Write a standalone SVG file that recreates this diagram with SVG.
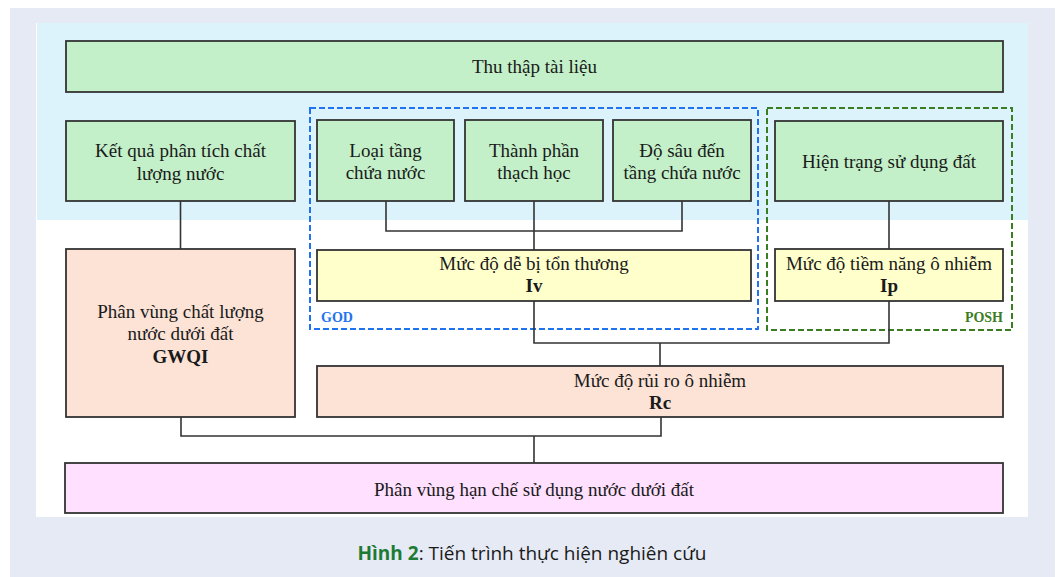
<svg xmlns="http://www.w3.org/2000/svg" width="1058" height="577" viewBox="0 0 1058 577">
<style>
.box{stroke:#333;stroke-width:1.8}
.g{fill:#C3F0C8}.y{fill:#FFFFCC}.p{fill:#FCE3D6}.k{fill:#FFE0FF}
.t{font-family:"Liberation Serif","Times New Roman",serif;font-size:19px;fill:#1a1a1a;text-anchor:middle}
.b{font-weight:bold}
.c{fill:none;stroke:#333;stroke-width:1.6}
.lbl{font-family:"Liberation Serif",serif;font-size:14px;font-weight:bold}
</style>
<rect x="0" y="0" width="1058" height="577" fill="#ffffff"/>
<rect x="10" y="8" width="1045" height="569" fill="#E6EAF5"/>
<rect x="36" y="23" width="992" height="494" fill="#ffffff"/>
<rect x="37" y="23" width="991" height="197" fill="#DDF3FB"/>

<g id="group-god">
<rect x="310" y="108" width="448" height="221" fill="none" stroke="#1F72F0" stroke-width="2" stroke-dasharray="6 3"/>
<text class="lbl" x="321" y="322" fill="#1F72F0">GOD</text>
</g>
<g id="group-posh">
<rect x="767" y="108" width="245" height="222" fill="none" stroke="#3A7D22" stroke-width="2" stroke-dasharray="6 3"/>
<text class="lbl" x="1003" y="322" fill="#3A7D22" text-anchor="end">POSH</text>
</g>

<g id="connectors">
<path class="c" d="M180.5 201V249"/>
<path class="c" d="M386 201V231H682V201"/>
<path class="c" d="M534 201V250"/>
<path class="c" d="M889 201V249"/>
<path class="c" d="M534 301V343H889V301"/>
<path class="c" d="M660 343V366"/>
<path class="c" d="M181 417V436H661V417"/>
<path class="c" d="M534 436V463"/>
</g>

<g id="n-thuthap">
<rect class="box g" x="66" y="41" width="937" height="51"/>
<text class="t" x="534.5" y="73">Thu thập tài liệu</text>
</g>
<g id="n-ketqua">
<rect class="box g" x="66" y="121" width="229" height="80"/>
<text class="t" x="180.5" y="157">Kết quả phân tích chất</text>
<text class="t" x="180.5" y="180">lượng nước</text>
</g>
<g id="n-loaitang">
<rect class="box g" x="317" y="120" width="137" height="81"/>
<text class="t" x="385.5" y="157">Loại tầng</text>
<text class="t" x="385.5" y="179">chứa nước</text>
</g>
<g id="n-thanhphan">
<rect class="box g" x="465" y="120" width="138" height="81"/>
<text class="t" x="534" y="157">Thành phần</text>
<text class="t" x="534" y="179">thạch học</text>
</g>
<g id="n-dosau">
<rect class="box g" x="613" y="120" width="138" height="81"/>
<text class="t" x="682" y="157">Độ sâu đến</text>
<text class="t" x="682" y="179">tầng chứa nước</text>
</g>
<g id="n-hientrang">
<rect class="box g" x="775" y="121" width="228" height="80"/>
<text class="t" x="889" y="168">Hiện trạng sử dụng đất</text>
</g>
<g id="n-iv">
<rect class="box y" x="317" y="250" width="434" height="51"/>
<text class="t" x="534" y="270">Mức độ dễ bị tổn thương</text>
<text class="t b" x="534" y="292">Iv</text>
</g>
<g id="n-ip">
<rect class="box y" x="775" y="249" width="228" height="52"/>
<text class="t" x="889" y="270">Mức độ tiềm năng ô nhiễm</text>
<text class="t b" x="889" y="292">Ip</text>
</g>
<g id="n-gwqi">
<rect class="box p" x="66" y="249" width="229" height="168"/>
<text class="t" x="180.5" y="318">Phân vùng chất lượng</text>
<text class="t" x="180.5" y="340">nước dưới đất</text>
<text class="t b" x="180.5" y="363">GWQI</text>
</g>
<g id="n-rc">
<rect class="box p" x="317" y="366" width="686" height="51"/>
<text class="t" x="660" y="387">Mức độ rủi ro ô nhiễm</text>
<text class="t b" x="660" y="409">Rc</text>
</g>
<g id="n-phanvung">
<rect class="box k" x="65" y="463" width="938" height="50"/>
<text class="t" x="534" y="496">Phân vùng hạn chế sử dụng nước dưới đất</text>
</g>

<text x="532" y="560" text-anchor="middle" font-family="'Open Sans','Noto Sans',sans-serif" font-size="19" fill="#1a1a1a"><tspan font-weight="bold" fill="#1E7B34">Hình 2</tspan>: Tiến trình thực hiện nghiên cứu</text>
</svg>
